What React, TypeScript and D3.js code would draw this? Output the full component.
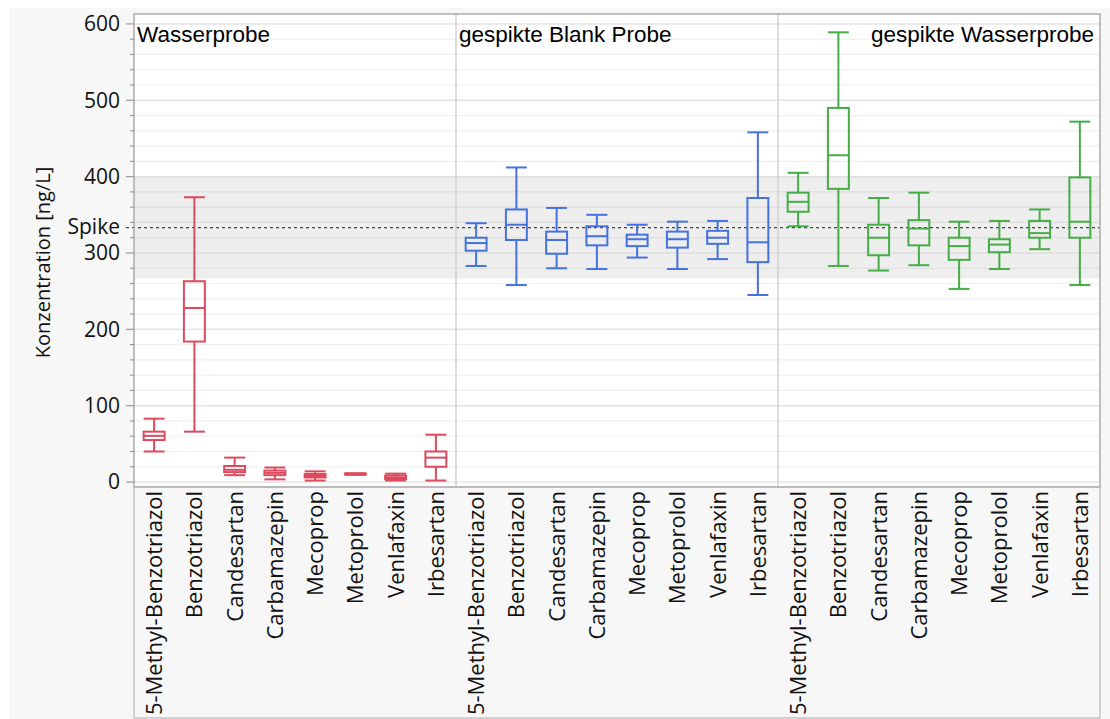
import React from 'react';
import * as d3 from 'd3';

const compounds = ["5-Methyl-Benzotriazol", "Benzotriazol", "Candesartan", "Carbamazepin", "Mecoprop", "Metoprolol", "Venlafaxin", "Irbesartan"];
const groupNames = ["Wasserprobe", "gespikte Blank Probe", "gespikte Wasserprobe"];
const groupColors = ["#dc4a5e", "#4572de", "#45ad45"];
// [min, q1, median, q3, max]
const wasserprobe = [
  [40, 55, 60.5, 66, 83],
  [66, 184, 228, 263, 373],
  [9, 13, 16, 21, 32],
  [3.5, 9, 12, 15, 19],
  [2, 6, 8, 10.5, 14],
  [9.5, 10, 10.5, 11, 11.5],
  [2, 4, 6, 8.5, 11],
  [2, 20, 32, 40, 62],
];
const blankProbe = [
  [283, 303, 313, 320, 339],
  [258, 317, 337, 357, 412],
  [280, 299, 317, 328, 359],
  [279, 310, 322, 335, 350],
  [294, 309, 318, 324, 337],
  [279, 307, 318, 328, 341],
  [292, 312, 320, 329, 342],
  [245, 288, 314, 372, 458],
];
const spikedWasserprobe = [
  [335, 354, 367, 379, 405],
  [283, 384, 428, 490, 589],
  [277, 297, 320, 337, 372],
  [284, 310, 332, 343, 379],
  [253, 291, 309, 320, 341],
  [279, 301, 311, 318, 342],
  [305, 320, 326, 342, 357],
  [258, 320, 341, 399, 472],
];
const spikeValue = 333.3;
const bandLow = 266.7;
const bandHigh = 400;
const yMajorTicks = [0, 100, 200, 300, 400, 500, 600];
const yMinorTicks = d3.range(0, 601, 20);

const W = 1110, H = 719;
const L = 134, R = 1100, T = 14, B = 487;
const tickFont = "'Segoe UI', 'Open Sans', 'Noto Sans', sans-serif";

export default function App() {
  const groupData = [wasserprobe, blankProbe, spikedWasserprobe];
  const keys: string[] = [];
  groupNames.forEach((g, gi) => compounds.forEach((c) => keys.push(gi + "|" + c)));
  const x = d3.scaleBand<string>().domain(keys).range([L, R]).padding(0);
  const y = d3.scaleLinear().domain([-6.5, 613]).range([B, T]);
  const bw = x.bandwidth();
  const boxW = bw * 0.52;
  const groupW = bw * compounds.length;

  return (
    <svg width={W} height={H} style={{ position: 'absolute', left: 0, top: 0 }} fontFamily={tickFont}>
      <rect x={0} y={0} width={W} height={H} fill="#ffffff" />
      <rect x={9} y={8} width={W - 9} height={H - 8} fill="#f7f7f7" />
      <rect x={L} y={T} width={R - L} height={B - T} fill="#ffffff" />
      {/* band */}
      <rect x={L} y={y(bandHigh)} width={R - L} height={y(bandLow) - y(bandHigh)} fill="#eeeeee" />
      {/* grid */}
      {yMinorTicks.map((v) => {
        const inBand = v >= bandLow && v <= bandHigh;
        const major = v % 100 === 0;
        return (
          <line key={'g' + v} x1={L} x2={R} y1={y(v)} y2={y(v)}
            stroke={inBand ? '#dddddd' : major ? '#e4e4e4' : '#efefef'} strokeWidth={major ? 1.5 : 1.2} />
        );
      })}
      {/* spike line */}
      <line x1={L - 8} x2={R} y1={y(spikeValue)} y2={y(spikeValue)} stroke="#444" strokeWidth={1.3} strokeDasharray="3,3" />
      {/* group separators */}
      {[1, 2].map((i) => (
        <line key={'s' + i} x1={L + groupW * i} x2={L + groupW * i} y1={T} y2={B} stroke="#d0d0d0" strokeWidth={1.5} />
      ))}
      {/* boxes */}
      {groupData.map((gd, gi) => gd.map((s, ci) => {
        const cx = (x(gi + "|" + compounds[ci]) as number) + bw / 2;
        const [mn, q1, md, q3, mx] = s;
        const col = groupColors[gi];
        return (
          <g key={gi + '-' + ci} stroke={col} fill="none" strokeWidth={2}>
            <line x1={cx} x2={cx} y1={y(mx)} y2={y(q3)} />
            <line x1={cx} x2={cx} y1={y(q1)} y2={y(mn)} />
            <line x1={cx - boxW / 2} x2={cx + boxW / 2} y1={y(mx)} y2={y(mx)} />
            <line x1={cx - boxW / 2} x2={cx + boxW / 2} y1={y(mn)} y2={y(mn)} />
            <rect x={cx - boxW / 2} y={y(q3)} width={boxW} height={Math.max(0.5, y(q1) - y(q3))} />
            <line x1={cx - boxW / 2} x2={cx + boxW / 2} y1={y(md)} y2={y(md)} />
          </g>
        );
      }))}
      {/* plot border */}
      <rect x={L} y={T} width={R - L} height={B - T} fill="none" stroke="#ababab" strokeWidth={1.5} />
      {/* x label area box */}
      <rect x={L} y={B} width={R - L} height={H - 1 - B} fill="none" stroke="#b8b8b8" strokeWidth={1.2} />
      {/* group titles */}
      <g fontFamily="'Liberation Sans', Arial, sans-serif" fontSize={22.5} fill="#000">
        <text x={L + 3} y={42}>{groupNames[0]}</text>
        <text x={L + groupW + 3} y={42}>{groupNames[1]}</text>
        <text x={R - 6} y={42} textAnchor="end">{groupNames[2]}</text>
      </g>
      {/* y axis */}
      {yMinorTicks.map((v) => (
        <line key={'t' + v} x1={v % 100 === 0 ? L - 8 : L - 4} x2={L} y1={y(v)} y2={y(v)} stroke="#9a9a9a" strokeWidth={1.2} />
      ))}
      {yMajorTicks.map((v) => (
        <text key={'l' + v} x={L - 14} y={y(v)} dy="0.35em" textAnchor="end" fontSize={21} fill="#111">{v}</text>
      ))}
      <text x={L - 14} y={y(spikeValue)} dy="0.3em" textAnchor="end" fontSize={21} fill="#111">Spike</text>
      <text transform={`translate(50,${(T + B) / 2 + 12}) rotate(-90)`} textAnchor="middle" fontSize={20} fill="#111">Konzentration [ng/L]</text>
      {/* x labels */}
      {keys.map((k) => {
        const cx = (x(k) as number) + bw / 2;
        return (
          <text key={'x' + k} transform={`translate(${cx + 8},${B + 4}) rotate(-90)`} textAnchor="end" fontSize={22} fill="#111">{k.split('|')[1]}</text>
        );
      })}
    </svg>
  );
}
